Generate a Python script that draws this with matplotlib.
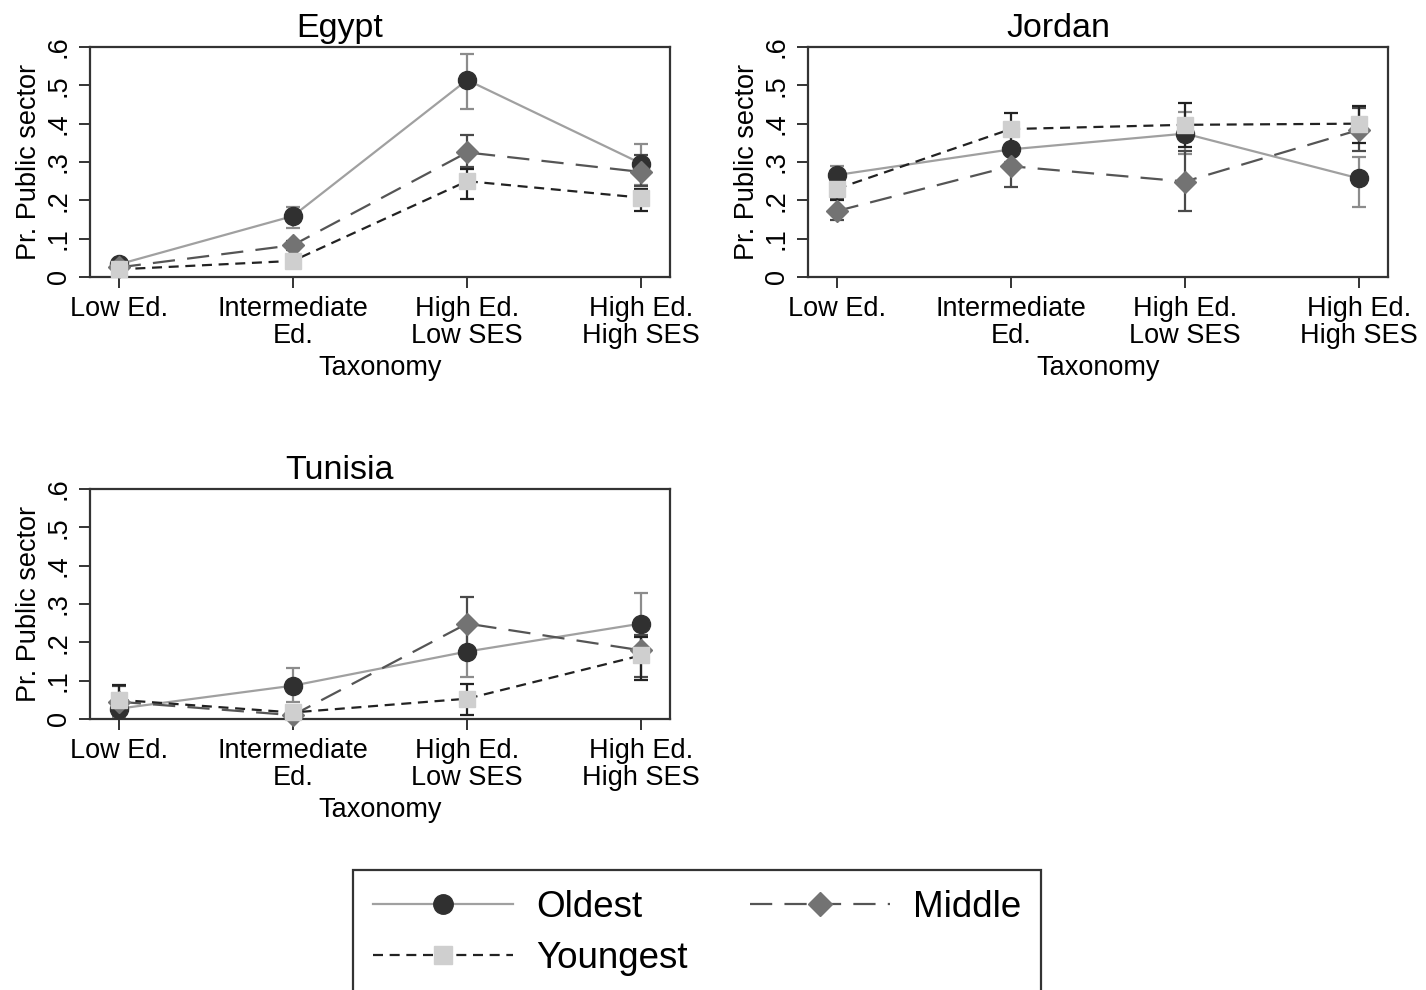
import matplotlib.pyplot as plt
from matplotlib.lines import Line2D

plt.rcParams['font.family'] = ['Liberation Sans', 'DejaVu Sans']

# categories on the x axis
categories = ['Low Ed.', 'Intermediate\nEd.', 'High Ed.\nLow SES', 'High Ed.\nHigh SES']
xpos = [1, 2, 3, 4]
yticks = [0, 0.1, 0.2, 0.3, 0.4, 0.5, 0.6]
yticklabels = ['0', '.1', '.2', '.3', '.4', '.5', '.6']

# Egypt
egypt_oldest = [0.033, 0.159, 0.514, 0.296]
egypt_oldest_lo = [0.022, 0.127, 0.439, 0.240]
egypt_oldest_hi = [0.045, 0.182, 0.582, 0.348]
egypt_middle = [0.025, 0.083, 0.325, 0.274]
egypt_middle_lo = [0.015, 0.070, 0.286, 0.237]
egypt_middle_hi = [0.035, 0.095, 0.371, 0.317]
egypt_young = [0.020, 0.042, 0.250, 0.207]
egypt_young_lo = [0.012, 0.032, 0.203, 0.171]
egypt_young_hi = [0.028, 0.052, 0.283, 0.230]

# Jordan
jordan_oldest = [0.266, 0.333, 0.374, 0.257]
jordan_oldest_lo = [0.240, 0.300, 0.320, 0.182]
jordan_oldest_hi = [0.290, 0.370, 0.430, 0.312]
jordan_middle = [0.172, 0.289, 0.249, 0.384]
jordan_middle_lo = [0.149, 0.234, 0.172, 0.330]
jordan_middle_hi = [0.203, 0.330, 0.328, 0.440]
jordan_young = [0.230, 0.386, 0.397, 0.400]
jordan_young_lo = [0.200, 0.340, 0.340, 0.350]
jordan_young_hi = [0.260, 0.429, 0.455, 0.447]

# Tunisia
tunisia_oldest = [0.027, 0.087, 0.176, 0.249]
tunisia_oldest_lo = [0.005, 0.045, 0.110, 0.170]
tunisia_oldest_hi = [0.050, 0.132, 0.240, 0.330]
tunisia_middle = [0.045, 0.010, 0.249, 0.179]
tunisia_middle_lo = [0.010, 0.000, 0.180, 0.110]
tunisia_middle_hi = [0.085, 0.030, 0.318, 0.220]
tunisia_young = [0.050, 0.017, 0.053, 0.166]
tunisia_young_lo = [0.010, 0.000, 0.011, 0.103]
tunisia_young_hi = [0.090, 0.035, 0.092, 0.214]

panels = [
    ('Egypt', [90, 47], [(egypt_oldest, egypt_oldest_lo, egypt_oldest_hi),
                         (egypt_middle, egypt_middle_lo, egypt_middle_hi),
                         (egypt_young, egypt_young_lo, egypt_young_hi)]),
    ('Jordan', [808, 47], [(jordan_oldest, jordan_oldest_lo, jordan_oldest_hi),
                           (jordan_middle, jordan_middle_lo, jordan_middle_hi),
                           (jordan_young, jordan_young_lo, jordan_young_hi)]),
    ('Tunisia', [90, 489], [(tunisia_oldest, tunisia_oldest_lo, tunisia_oldest_hi),
                            (tunisia_middle, tunisia_middle_lo, tunisia_middle_hi),
                            (tunisia_young, tunisia_young_lo, tunisia_young_hi)]),
]

# style per series: line colour, linestyle, marker, marker colour, error bar colour, marker size
styles = [
    dict(lc='#a0a0a0', ls='-', mk='o', mc='#303030', ec='#8c8c8c', ms=13),
    dict(lc='#555555', ls=(0, (10, 5.5)), mk='D', mc='#737373', ec='#4a4a4a', ms=11),
    dict(lc='#222222', ls=(0, (4.5, 3)), mk='s', mc='#cfcfcf', ec='#222222', ms=12),
]

W, H = 1426, 990
fig = plt.figure(figsize=(W / 100, H / 100), dpi=100)
aw, ah = 580, 230

for title, (px, py), series in panels:
    ax = fig.add_axes([px / W, 1 - (py + ah) / H, aw / W, ah / H])
    for (vals, lo, hi), st in zip(series, styles):
        err = [[v - l for v, l in zip(vals, lo)], [h - v for v, h in zip(vals, hi)]]
        ax.errorbar(xpos, vals, yerr=err, fmt='none', ecolor=st['ec'], elinewidth=1.6,
                    capsize=5, capthick=1.6, clip_on=False)
        ax.plot(xpos, vals, color=st['lc'], ls=st['ls'], lw=1.6, clip_on=False)
        ax.plot(xpos, vals, ls='none', marker=st['mk'], ms=st['ms'], mfc=st['mc'],
                mec=st['mc'], clip_on=False, zorder=3)
    ax.set_xlim(0.835, 4.165)
    ax.set_ylim(0, 0.6)
    ax.set_xticks(xpos)
    ax.set_xticklabels(categories, fontsize=19.5, linespacing=1.05)
    ax.set_yticks(yticks)
    ax.set_yticklabels(yticklabels, fontsize=19.5, rotation=90, va='center')
    ax.tick_params(axis='both', direction='out', length=8, width=1.4, color='#333333', pad=6)
    ax.tick_params(axis='y', pad=5)
    for sp in ax.spines.values():
        sp.set_color('#333333')
        sp.set_linewidth(1.6)
    ax.set_xlabel('Taxonomy', fontsize=19.5, labelpad=4)
    ax.set_ylabel('Pr. Public sector', fontsize=19.5, labelpad=3)
    ax.text(0.431, 1.045, title, transform=ax.transAxes, ha='center', va='baseline',
            fontsize=24.5)

# legend
handles = [
    Line2D([], [], color=styles[0]['lc'], ls='-', lw=1.6, marker='o', ms=14,
           mfc=styles[0]['mc'], mec=styles[0]['mc']),
    Line2D([], [], color=styles[2]['lc'], ls=(0, (4.5, 3)), lw=1.6, marker='s', ms=13,
           mfc=styles[2]['mc'], mec=styles[2]['mc']),
    Line2D([], [], color=styles[1]['lc'], ls=(0, (10, 5.5)), lw=1.6, marker='D', ms=12,
           mfc=styles[1]['mc'], mec=styles[1]['mc']),
]
labels = ['Oldest', 'Youngest', 'Middle']
leg = fig.legend(handles, labels, loc='upper left', bbox_to_anchor=(353 / W, 1 - 870 / H),
                 borderaxespad=0, ncol=2, fontsize=26.5,
                 handlelength=3.8, handletextpad=0.62, columnspacing=1.7, borderpad=0.55,
                 labelspacing=0.42, frameon=True, fancybox=False, framealpha=1,
                 edgecolor='#333333')
leg.get_frame().set_linewidth(1.6)

fig.savefig('out.png', dpi=100)
